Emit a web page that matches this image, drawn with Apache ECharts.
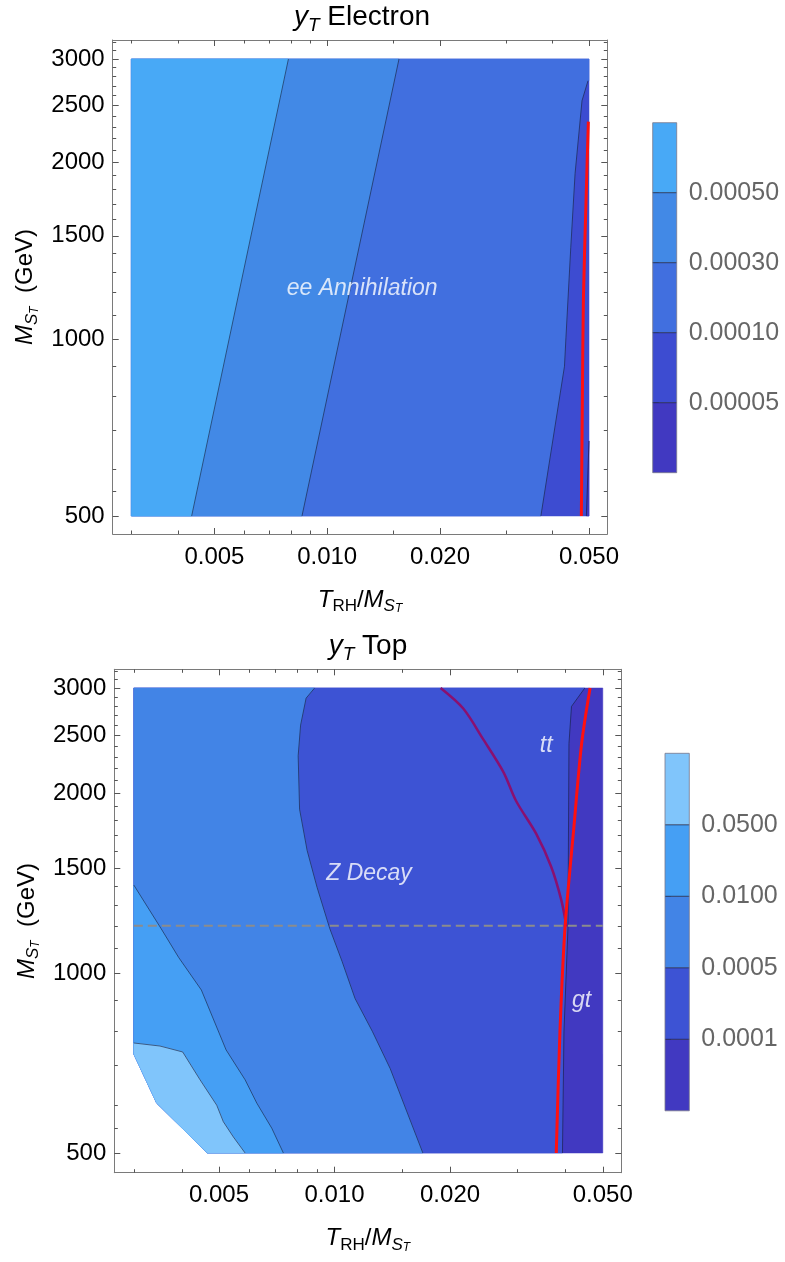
<!DOCTYPE html>
<html>
<head>
<meta charset="utf-8">
<script src="https://cdn.jsdelivr.net/npm/echarts@6.0.0/dist/echarts.min.js"></script>
<style>
html,body{margin:0;padding:0;background:#ffffff;}
#chart{width:785px;height:1262px;}
</style>
</head>
<body>
<div id="chart"></div>
<script>
// ================= DATA =================
// axis ticks (shared by both panels)
const xMajorTicks = [0.005, 0.010, 0.020, 0.050];
const xTickLabels = ['0.005', '0.010', '0.020', '0.050'];
const xMinorTicks = [0.003, 0.004, 0.006, 0.007, 0.008, 0.009, 0.015, 0.030, 0.040];
const yMajorTicks = [500, 1000, 1500, 2000, 2500, 3000];
const yTickLabels = ['500', '1000', '1500', '2000', '2500', '3000'];
const yMinorTicks = [550, 600, 700, 800, 900, 1100, 1200, 1300, 1400, 1600, 1700, 1800, 1900,
                     2100, 2200, 2300, 2400, 2600, 2700, 2800, 2900, 3100, 3200];

// ---- Panel 1 : y_T Electron  (points are [T_RH/M, M in GeV]) ----
const eDomain   = [[0.003, 500], [0.05, 500], [0.05, 3000], [0.003, 3000]];
const eContour1 = [[0.00788, 3000], [0.004347, 500]];
const eContour2 = [[0.01555, 3000], [0.008565, 500]];
const eContour3 = [[0.0497, 2755], [0.0479, 2548], [0.0459, 1915], [0.0447, 1433],
                   [0.0434, 1008], [0.0430, 899], [0.0372, 500]];
const eContour4 = [[0.0500, 671], [0.0492, 500]];
const eRedLine  = [[0.0498, 2347], [0.0491, 1723], [0.0483, 1165], [0.0480, 787], [0.0477, 500]];
const eLevels   = ['0.00005', '0.00010', '0.00030', '0.00050'];
const eColors   = ['#4139c1', '#3d4cd1', '#416fdf', '#4289e6', '#48a9f6'];
const eLabelText = ['ee Annihilation'];
const eLabelPos  = [[0.0124, 1220]];

// ---- Panel 2 : y_T Top ----
const tDomain    = [[0.003, 3000], [0.05, 3000], [0.05, 500], [0.004665, 500], [0.003441, 606], [0.003, 732]];
const tContourAB = [[0.003, 764], [0.00351, 755], [0.004022, 738], [0.004463, 663], [0.004934, 601],
                    [0.005133, 564], [0.00545, 532], [0.005849, 500]];
const tContourBC = [[0.003, 1404], [0.003531, 1188], [0.003927, 1062], [0.004499, 937], [0.005218, 744],
                    [0.005849, 663], [0.006274, 606], [0.006865, 550], [0.007359, 500]];
const tContourCD = [[0.008876, 3000], [0.008434, 2885], [0.00816, 2600], [0.008041, 2310], [0.00811, 1880],
                    [0.008486, 1604], [0.009009, 1391], [0.009717, 1188], [0.01047, 1045], [0.01131, 907],
                    [0.01256, 798], [0.01397, 692], [0.01552, 581], [0.01699, 500]];
const tContourDE = [[0.0449, 3000], [0.04144, 2794], [0.04082, 2422], [0.04057, 1188], [0.03961, 798], [0.03926, 500]];
const tRedLine    = [[0.04633, 3000], [0.04404, 2422], [0.04207, 1764], [0.03985, 1188], [0.03867, 798], [0.03782, 500]];
const tPurpleLine = [[0.0189, 3000], [0.02165, 2772], [0.02441, 2461], [0.02757, 2168], [0.02973, 1941],
                     [0.03355, 1710], [0.03671, 1505], [0.03897, 1326], [0.04021, 1197]];
const tDashedM   = [1200];
const tLevels    = ['0.0001', '0.0005', '0.0100', '0.0500'];
const tColors    = ['#4139c1', '#3d53d4', '#4284e6', '#459ff4', '#80c5fb'];
const tLabelText = ['Z Decay', 'tt', 'gt'];
const tLabelPos  = [[0.0123, 1470], [0.0356, 2400], [0.0440, 900]];

// ================= HELPERS =================
const L = Math.log10;
const P = pts => pts.map(p => [L(p[0]), L(p[1])]);
const FF = "'Liberation Sans', Arial, Helvetica, sans-serif";
const frameColor = '#7a7a7a';
const tickColor = '#555555';
const contourStyle = { color: 'rgba(20,20,45,0.72)', width: 0.8 };

function labelFor(ticks, labels) {
  return v => {
    const i = ticks.findIndex(t => Math.abs(L(t) - v) < 1e-9);
    return i >= 0 ? labels[i] : '';
  };
}

const richMath = {
  i:  { fontFamily: FF, fontStyle: 'italic', fontSize: 24, lineHeight: 30, color: '#000' },
  n:  { fontFamily: FF, fontSize: 24, lineHeight: 30, color: '#000' },
  s:  { fontFamily: FF, fontStyle: 'italic', fontSize: 17, lineHeight: 18, verticalAlign: 'bottom', color: '#000' },
  r:  { fontFamily: FF, fontSize: 17, lineHeight: 18, verticalAlign: 'bottom', color: '#000' },
  ss: { fontFamily: FF, fontStyle: 'italic', fontSize: 12, lineHeight: 11, verticalAlign: 'bottom', color: '#000' }
};
const richTitle = {
  i: { fontFamily: FF, fontStyle: 'italic', fontSize: 28, lineHeight: 36, color: '#000' },
  n: { fontFamily: FF, fontSize: 28, lineHeight: 36, color: '#000' },
  s: { fontFamily: FF, fontStyle: 'italic', fontSize: 19, lineHeight: 21, verticalAlign: 'bottom', color: '#000' }
};

function frameAxes(gi, xr, yr) {
  const xb = { type: 'value', gridIndex: gi, min: xr[0], max: xr[1], splitLine: { show: false } };
  const yb = { type: 'value', gridIndex: gi, min: yr[0], max: yr[1], splitLine: { show: false } };
  const line = { show: true, onZero: false, lineStyle: { color: frameColor, width: 1 } };
  const majT = (vals) => ({ show: true, inside: true, length: 6, customValues: vals.map(L), lineStyle: { color: tickColor, width: 1 } });
  const minT = (vals) => ({ show: true, inside: true, length: 3.5, customValues: vals.map(L), lineStyle: { color: tickColor, width: 1 } });
  const xs = [
    Object.assign({}, xb, {
      position: 'bottom', axisLine: line, axisTick: majT(xMajorTicks),
      axisLabel: { show: true, customValues: xMajorTicks.map(L), formatter: labelFor(xMajorTicks, xTickLabels),
                   margin: 11, fontSize: 24, color: '#000', fontFamily: FF },
      name: '{i|T}{r|RH}{n|/}{i|M}{s|S}{ss|T}', nameLocation: 'middle', nameGap: 51,
      nameTextStyle: { rich: richMath }
    }),
    Object.assign({}, xb, { position: 'top', axisLine: line, axisTick: majT(xMajorTicks), axisLabel: { show: false } }),
    Object.assign({}, xb, { position: 'bottom', axisLine: { show: false }, axisTick: minT(xMinorTicks), axisLabel: { show: false } }),
    Object.assign({}, xb, { position: 'top', axisLine: { show: false }, axisTick: minT(xMinorTicks), axisLabel: { show: false } })
  ];
  const ys = [
    Object.assign({}, yb, {
      position: 'left', axisLine: line, axisTick: majT(yMajorTicks),
      axisLabel: { show: true, customValues: yMajorTicks.map(L), formatter: labelFor(yMajorTicks, yTickLabels),
                   margin: 8, fontSize: 24, color: '#000', fontFamily: FF },
      name: '{i|M}{s|S}{ss|T}{n|  (GeV)}', nameLocation: 'middle', nameGap: 72,
      nameTextStyle: { rich: richMath }
    }),
    Object.assign({}, yb, { position: 'right', axisLine: line, axisTick: majT(yMajorTicks), axisLabel: { show: false } }),
    Object.assign({}, yb, { position: 'left', axisLine: { show: false }, axisTick: minT(yMinorTicks), axisLabel: { show: false } }),
    Object.assign({}, yb, { position: 'right', axisLine: { show: false }, axisTick: minT(yMinorTicks), axisLabel: { show: false } })
  ];
  return { xs, ys };
}

function colorbarAxes(gi, levels) {
  const vals = levels.map((_, i) => i + 1);
  return {
    x: { type: 'value', gridIndex: gi, min: 0, max: 1, show: false },
    y: { type: 'value', gridIndex: gi, min: 0, max: levels.length + 1, position: 'right',
         axisLine: { show: false }, splitLine: { show: false },
         axisTick: { show: true, inside: false, length: 6, customValues: vals, lineStyle: { color: '#8a8a8a', width: 1 } },
         axisLabel: { show: true, customValues: vals, formatter: v => levels[Math.round(v) - 1] || '',
                      margin: 12, fontSize: 25, color: '#666666', fontFamily: FF } }
  };
}

function regionSeries(axisIdx, regions) {
  return {
    type: 'custom', xAxisIndex: axisIdx, yAxisIndex: axisIdx, silent: true, z: 2, clip: true,
    data: regions.map(r => P(r.pts)[0]),
    renderItem: (params, api) => {
      const r = regions[params.dataIndex];
      const points = P(r.pts).map(d => api.coord(d));
      return { type: 'polygon', z2: params.dataIndex, shape: { points }, style: { fill: r.color, stroke: r.color, lineWidth: 0.5 } };
    }
  };
}

function lineSeries(axisIdx, pts, style, z, smooth) {
  return {
    type: 'line', xAxisIndex: axisIdx, yAxisIndex: axisIdx, data: P(pts), symbol: 'none', showSymbol: false,
    silent: true, z: z, smooth: smooth || false, lineStyle: style, animation: false
  };
}

function labelSeries(axisIdx, texts, pos) {
  return {
    type: 'scatter', xAxisIndex: axisIdx, yAxisIndex: axisIdx, symbolSize: 0, silent: true, z: 10,
    data: pos.map((p, i) => ({ value: [L(p[0]), L(p[1])], name: texts[i] })),
    label: { show: true, position: 'inside', formatter: '{b}', color: '#ffffff', fontStyle: 'italic',
             fontSize: 23, fontFamily: FF }
  };
}

function colorbarSeries(axisIdx, colors) {
  const n = colors.length;
  return {
    type: 'custom', xAxisIndex: axisIdx, yAxisIndex: axisIdx, silent: true, z: 2,
    data: colors.map((c, i) => [0.5, i + 0.5]),
    renderItem: (params, api) => {
      const i = params.dataIndex;
      const a = api.coord([0, i]), b = api.coord([1, i + 1]);
      const children = [{ type: 'rect', shape: { x: a[0], y: b[1], width: b[0] - a[0], height: a[1] - b[1] },
                          style: { fill: colors[i] } }];
      if (i > 0) children.push({ type: 'line', shape: { x1: a[0], y1: a[1], x2: b[0], y2: a[1] },
                                 style: { stroke: 'rgba(25,25,55,0.75)', lineWidth: 1 } });
      if (i === n - 1) {
        const c0 = api.coord([0, 0]), c1 = api.coord([1, n]);
        children.push({ type: 'rect', z2: 5, shape: { x: c0[0], y: c1[1], width: c1[0] - c0[0], height: c0[1] - c1[1] },
                        style: { fill: 'none', stroke: 'rgba(120,120,140,0.8)', lineWidth: 1 } });
      }
      return { type: 'group', children };
    }
  };
}

// ================= REGIONS =================
const eRegions = [
  { color: eColors[1], pts: eDomain },
  { color: eColors[0], pts: eContour4.concat([[0.05, 500]]) },
  { color: eColors[2], pts: [[0.003, 3000], [0.05, 3000], [0.05, eContour3[0][1]]].concat(eContour3, [[0.003, 500]]) },
  { color: eColors[3], pts: [[0.003, 3000]].concat(eContour2, [[0.003, 500]]) },
  { color: eColors[4], pts: [[0.003, 3000]].concat(eContour1, [[0.003, 500]]) }
];
const tCorner = tDomain.slice(3);
const tRegions = [
  { color: tColors[0], pts: tDomain },
  { color: tColors[1], pts: [[0.003, 3000]].concat(tContourDE, tCorner) },
  { color: tColors[2], pts: [[0.003, 3000]].concat(tContourCD, tCorner) },
  { color: tColors[3], pts: tContourBC.concat(tCorner) },
  { color: tColors[4], pts: tContourAB.concat(tCorner) }
];

// ================= OPTION =================
const a0 = frameAxes(0, [-2.5726, -1.2522], [2.6683, 3.5095]);
const a1 = frameAxes(1, [-2.5737, -1.2528], [2.6660, 3.5084]);
const c0 = colorbarAxes(2, eLevels);
const c1 = colorbarAxes(3, tLevels);

const option = {
  animation: false,
  backgroundColor: '#ffffff',
  textStyle: { fontFamily: FF },
  grid: [
    { left: 112.7, top: 40, width: 494.6, height: 494 },
    { left: 114.3, top: 669.3, width: 507, height: 503.4 },
    { left: 652.7, top: 122.7, width: 24, height: 350 },
    { left: 665, top: 753.3, width: 24.3, height: 357.5 }
  ],
  xAxis: a0.xs.concat(a1.xs, [c0.x, c1.x]),
  yAxis: a0.ys.concat(a1.ys, [c0.y, c1.y]),
  graphic: [
    { type: 'text', x: 362, y: 17, style: { text: '{i|y}{s|T}{n| Electron}', rich: richTitle, align: 'center', verticalAlign: 'middle' } },
    { type: 'text', x: 368, y: 646, style: { text: '{i|y}{s|T}{n| Top}', rich: richTitle, align: 'center', verticalAlign: 'middle' } }
  ],
  series: [
    regionSeries(0, eRegions),
    lineSeries(0, eContour1, contourStyle, 3),
    lineSeries(0, eContour2, contourStyle, 3),
    lineSeries(0, eContour3, contourStyle, 3),
    lineSeries(0, eContour4, contourStyle, 3),
    lineSeries(0, eRedLine, { color: '#ff1010', width: 3 }, 6, 0.3),
    labelSeries(0, eLabelText, eLabelPos),

    regionSeries(4, tRegions),
    lineSeries(4, tContourAB, contourStyle, 3),
    lineSeries(4, tContourBC, contourStyle, 3),
    lineSeries(4, tContourCD, contourStyle, 3),
    lineSeries(4, tContourDE, contourStyle, 3),
    lineSeries(4, [[0.003, tDashedM[0]], [0.05, tDashedM[0]]], { color: '#8c8c8c', width: 2, type: [9, 5] }, 4),
    lineSeries(4, tPurpleLine, { color: '#8a1070', width: 2.5 }, 5, 0.3),
    lineSeries(4, tRedLine, { color: '#ff1010', width: 3 }, 6, 0.3),
    labelSeries(4, tLabelText, tLabelPos),

    colorbarSeries(8, eColors),
    colorbarSeries(9, tColors)
  ]
};

const chart = echarts.init(document.getElementById('chart'), null, { renderer: 'canvas' });
chart.setOption(option);
</script>
</body>
</html>
